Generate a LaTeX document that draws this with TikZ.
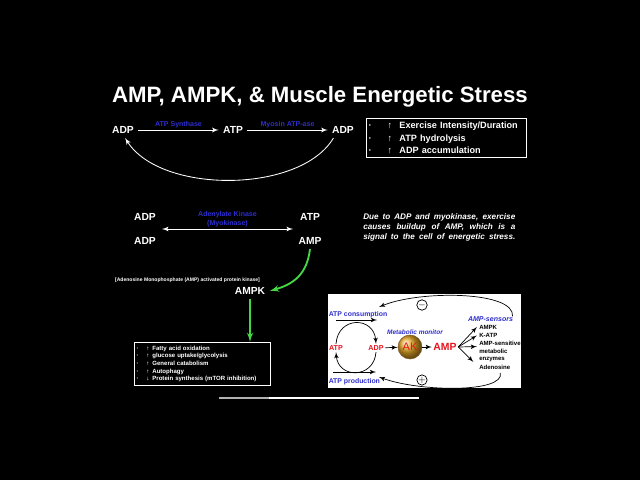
\documentclass[tikz,border=0pt]{standalone}
\usepackage{fontspec}
\setmainfont{Liberation Sans}
\usepackage{tikz}
\usetikzlibrary{arrows}
\usetikzlibrary{calc}

\definecolor{labelblue}{RGB}{45,45,205}
\definecolor{kgreen}{RGB}{70,215,70}
\definecolor{akred}{RGB}{230,20,30}
\definecolor{akgold}{RGB}{225,165,35}

%% list line: bullet, arrow, text
\newcommand{\litem}[4]{\makebox[#1][l]{\textperiodcentered}\makebox[#2][l]{#3}#4}

\begin{document}
\begin{tikzpicture}[x = 0.025cm, y = -0.025cm,
    mol/.style = {text = white, inner sep = 3pt, font = \fontsize{7.3}{8}\selectfont\bfseries},
    enz/.style = {text = labelblue, inner sep = 0pt, font = \fontsize{5}{6.4}\selectfont\bfseries},
    wline/.style = {white, line width = 0.6pt, -latex'},
    gline/.style = {kgreen, line width = 1.3pt, -latex'},
    kline/.style = {black, line width = 0.5pt, -latex'},
    listbox/.style = {draw = white, line width = 0.6pt, text = white, align = left, inner xsep = 1.5pt},
    figblue/.style = {text = labelblue, inner sep = 0pt, font = \fontsize{4.9}{6}\selectfont\bfseries},
    figred/.style = {text = akred, inner sep = 1pt, font = \fontsize{5.1}{6}\selectfont\bfseries},
    sensor/.style = {text = black, inner sep = 0pt, align = left, font = \fontsize{4.3}{5.3}\selectfont\bfseries},
    sign/.style = {circle, draw, line width = 0.5pt, inner sep = 0pt, minimum size = 0.22cm, font = \fontsize{6}{6}\selectfont}]
    \fill[black] (0, 0) rectangle (640, 480);
    \useasboundingbox (0, 0) rectangle (640, 480);

    %% title
    \node[text = white, font = \fontsize{15.8}{18}\selectfont\bfseries] (title) at (320, 97)
        {AMP, AMPK, \& Muscle Energetic Stress};

    %% ATP turnover
    \node[mol] (adp1) at (123, 130) {ADP};
    \node[mol] (atp1) at (233, 130) {ATP};
    \node[mol] (adp2) at (343, 130) {ADP};
    \draw[wline] (adp1) -- node[enz, above = 1.5pt] {ATP Synthase} (atp1);
    \draw[wline] (atp1) -- node[enz, above = 1.5pt] {Myosin ATP-ase} (adp2);
    \draw[wline] (adp2.220) .. controls (300, 194) and (160, 194) .. (adp1.285);

    \node[listbox, anchor = north west, text width = 3.9cm, inner ysep = 2.5pt,
        font = \fontsize{6.5}{8.9}\selectfont\bfseries] (stress) at (366, 118)
        {\litem{13.5pt}{8.5pt}{↑}{Exercise Intensity/Duration}\\
         \litem{13.5pt}{8.5pt}{↑}{ATP hydrolysis}\\
         \litem{13.5pt}{8.5pt}{↑}{ADP accumulation}};

    %% adenylate kinase
    \node[mol] (adp3) at (145, 217) {ADP};
    \node[mol] (atp2) at (310, 217) {ATP};
    \node[mol] (adp4) at (145, 241) {ADP};
    \node[mol] (amp) at (310, 241) {AMP};
    \coordinate (akl) at ($(adp3)!.5!(adp4) + (17, 0)$);
    \coordinate (akr) at ($(atp2)!.5!(amp) + (-17, 0)$);
    \draw[wline, latex'-latex'] (akl) -- node[enz, above = 1.5pt, align = center]
        {Adenylate Kinase\\(Myokinase)} (akr);

    \node[text = white, anchor = north west, inner sep = 0pt, align = left,
        font = \fontsize{5.8}{7.1}\selectfont\bfseries\itshape] (note) at (363, 213)
        {\makebox[3.8cm][s]{Due to ADP and myokinase, exercise}\\
         \makebox[3.8cm][s]{causes buildup of AMP, which is a}\\
         \makebox[3.8cm][s]{signal to the cell of energetic stress.}};

    %% AMPK
    \node[text = white, inner sep = 0pt, font = \fontsize{3.6}{4}\selectfont\bfseries] (ampkname) at (187.5, 280)
        {[Adenosine Monophosphate (AMP) activated protein kinase]};
    \node[mol] (ampk) at (250, 291) {AMPK};
    \draw[gline] (amp.south) .. controls (307, 274) and (294, 284) .. (ampk.east);

    \node[listbox, anchor = north west, text width = 3.3cm, inner ysep = 2.5pt,
        font = \fontsize{4.3}{5.4}\selectfont\bfseries] (effects) at (134, 342)
        {\litem{7pt}{4.3pt}{↑}{Fatty acid oxidation}\\
         \litem{7pt}{4.3pt}{↑}{glucose uptake/glycolysis}\\
         \litem{7pt}{4.3pt}{↑}{General catabolism}\\
         \litem{7pt}{4.3pt}{↑}{Autophagy}\\
         \litem{7pt}{4.3pt}{↓}{Protein synthesis (mTOR inhibition)}};
    \draw[gline] (ampk.south) -- (ampk.south |- effects.north);

    %% metabolic monitor figure
    \fill[white] (328, 294) rectangle (521, 388);
    \node[figblue, anchor = west] (cons) at (328.5, 315) {ATP consumption};
    \node[figblue, anchor = west] (prod) at (328.5, 382) {ATP production};
    \node[figred] (fatp) at (336, 348) {ATP};
    \node[figred] (fadp) at (376, 348) {ADP};
    \node[circle, ball color = akgold, draw = brown!70!black, line width = 0.4pt,
        minimum size = 0.6cm, inner sep = 0pt, text = akred,
        font = \fontsize{7.8}{8}\selectfont] (ak) at (410, 347) {AK};
    \node[text = akred, inner sep = 1pt, font = \fontsize{7.4}{8}\selectfont\bfseries] (famp) at (445, 347) {AMP};
    \node[figblue, font = \fontsize{4.6}{6}\selectfont\bfseries\itshape] (mon) at (415, 332) {Metabolic monitor};
    \node[figblue, font = \fontsize{5}{6}\selectfont\bfseries\itshape] (sens) at (490.5, 319) {AMP-sensors};

    \node[sensor, anchor = west] (s1) at (479, 327) {AMPK};
    \node[sensor, anchor = west] (s2) at (479, 335.5) {K-ATP};
    \node[sensor, anchor = west] (s3) at (479, 351.5) {AMP-sensitive\\metabolic\\enzymes};
    \node[sensor, anchor = west] (s4) at (479, 367.5) {Adenosine};

    \coordinate (consa) at (336, 320);
    \coordinate (consb) at (377, 320);
    \coordinate (proda) at (333, 372);
    \coordinate (prodb) at (376, 372);
    \draw[kline] (consa) -- (consb);
    \draw[kline] (proda) -- (prodb);
    \draw[kline] (fatp.north) .. controls (338, 316) and (374, 316) .. (fadp.north);
    \draw[kline] (fadp.south) .. controls (374, 379) and (338, 379) .. (fatp.south);
    \draw[kline] (fadp) -- (ak);
    \draw[kline] (ak) -- (famp);

    \draw[kline] (famp.east) -- ([xshift = -1.5pt]s1.west);
    \draw[kline] (famp.east) -- ([xshift = -1.5pt]s2.west);
    \draw[kline] (famp.east) -- ([xshift = -1.5pt, yshift = 3.5pt]s3.west);
    \draw[kline] (famp.east) -- ([xshift = -4pt, yshift = 4pt]s4.west);

    \coordinate (fbtop) at (379, 307);
    \coordinate (fbbot) at (379, 377);
    \draw[kline] ([xshift = -0.5pt]sens.north east) .. controls (515, 291) and (420, 290) .. (fbtop);
    \draw[kline] ([xshift = 4pt, yshift = -2pt]s4.south) .. controls (505, 393) and (420, 392) .. (fbbot);
    \node[sign] (minus) at (422, 305) {$-$};
    \node[sign] (plus) at (422, 380) {$+$};

    %% progress bar
    \draw[gray!60, line width = 1pt] (219, 398) -- (269, 398);
    \draw[white, line width = 1pt] (269, 398) -- (419, 398);
\end{tikzpicture}
\end{document}
